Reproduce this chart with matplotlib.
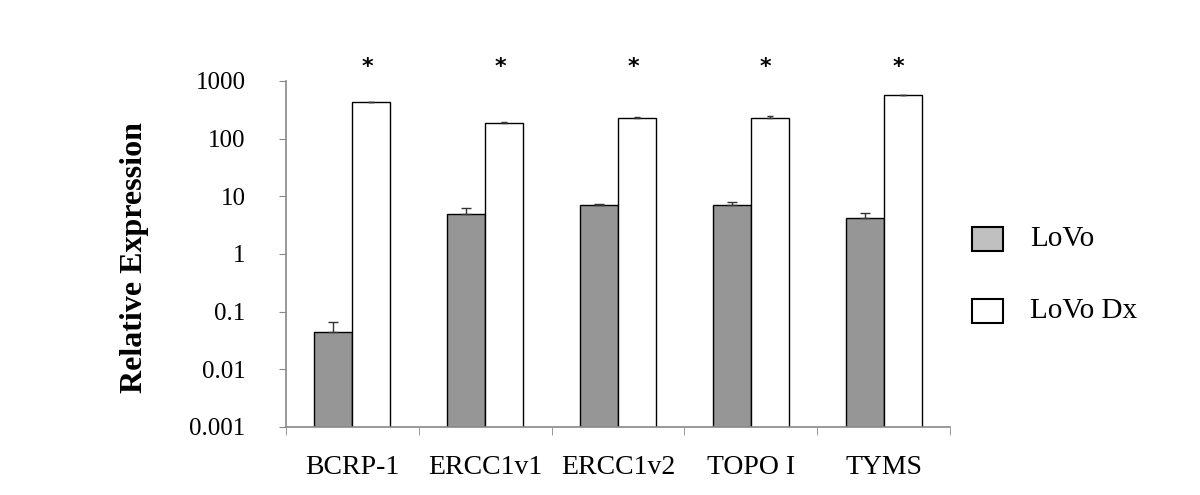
import numpy as np
import matplotlib.pyplot as plt
from matplotlib.patches import Rectangle
from matplotlib.transforms import blended_transform_factory

# =========================
# data
# =========================
genes = ["BCRP-1", "ERCC1v1", "ERCC1v2", "TOPO I", "TYMS"]
lovo = [0.045, 5.0, 7.0, 7.0, 4.25]
lovo_err = [0.020, 1.3, 0.3, 1.1, 0.8]
lovo_dx = [425, 188, 230, 230, 570]
lovo_dx_err = [0, 6, 8, 15, 0]
ytick_vals = [0.001, 0.01, 0.1, 1, 10, 100, 1000]
ytick_labels = ["0.001", "0.01", "0.1", "1", "10", "100", "1000"]
series_names = ["LoVo", "LoVo Dx"]

plt.rcParams["font.family"] = ["Liberation Serif", "DejaVu Serif"]

# =========================
# plot
# =========================
fig = plt.figure(figsize=(12, 4.95), dpi=100)
ax = fig.add_axes([0.2383, 0.1374, 0.5534, 0.699])

x = np.arange(len(genes))
w = 0.286
ax.bar(x - w / 2, lovo, width=w, color="#969696", edgecolor="black", linewidth=1.0,
       yerr=[np.zeros(len(lovo)), lovo_err],
       error_kw=dict(ecolor="#333333", elinewidth=1, capsize=3.5, capthick=1))
ax.bar(x + w / 2, lovo_dx, width=w, color="white", edgecolor="black", linewidth=1.0,
       yerr=[np.zeros(len(lovo_dx)), lovo_dx_err],
       error_kw=dict(ecolor="#333333", elinewidth=1, capsize=2, capthick=1))

ax.set_yscale("log")
ax.set_ylim(0.001, 1000)
ax.set_xlim(-0.5, len(genes) - 0.5)
ax.set_yticks(ytick_vals)
ax.set_yticklabels(ytick_labels, fontsize=18)
ax.yaxis.set_minor_locator(plt.NullLocator())
ax.tick_params(axis="y", direction="out", length=5, color="#888888", pad=24)

ax.set_xticks(x)
ax.set_xticklabels(genes, fontsize=20)
ax.tick_params(axis="x", which="major", length=0, pad=20)
ax.set_xticks(np.arange(len(genes) + 1) - 0.5, minor=True)
ax.tick_params(axis="x", which="minor", direction="out", length=6, color="#888888")

for side in ["top", "right"]:
    ax.spines[side].set_visible(False)
for side in ["left", "bottom"]:
    ax.spines[side].set_color("#888888")
    ax.spines[side].set_linewidth(1.2)

# significance stars
trans = blended_transform_factory(ax.transData, ax.transAxes)
for xi in x:
    ax.text(xi + w / 2 - 0.03, 1.04, "*", transform=trans, ha="center", va="center",
            fontsize=16, fontweight="bold", family="DejaVu Sans")

fig.text(0.112, 0.479, "Relative Expression", rotation=90, ha="center", va="center",
         fontsize=23, fontweight="bold")

# legend
legend_colors = ["#c0c0c0", "white"]
legend_y = [1 - 251 / 495, 1 - 323 / 495]
for name, col, ly in zip(series_names, legend_colors, legend_y):
    fig.patches.append(Rectangle((972 / 1200, ly), 31 / 1200, 24 / 495, transform=fig.transFigure,
                                 facecolor=col, edgecolor="black", linewidth=1.5))
    fig.text(1030 / 1200, ly + 12 / 495, name, ha="left", va="center", fontsize=21)

fig.savefig("out.png", dpi=100)
